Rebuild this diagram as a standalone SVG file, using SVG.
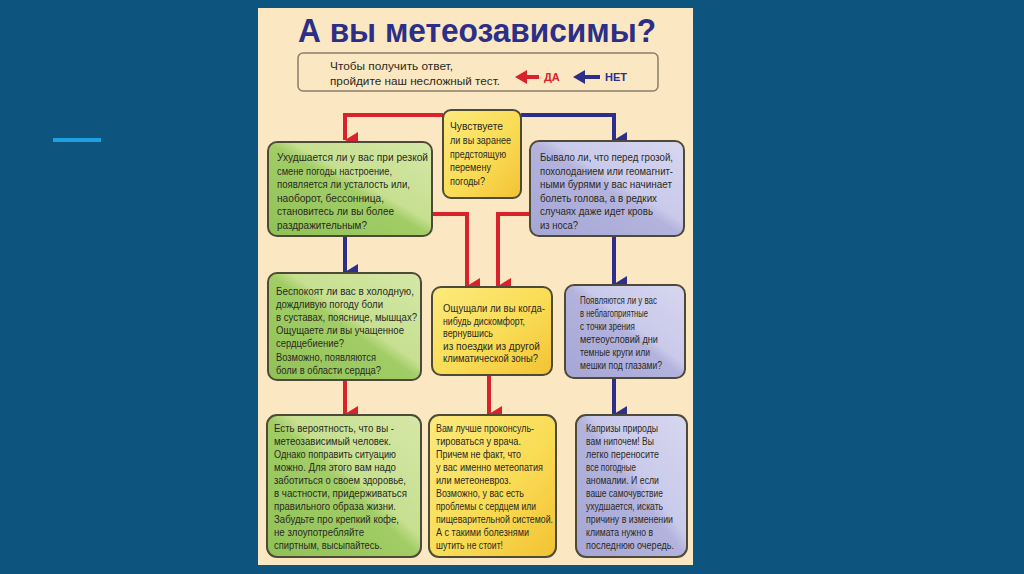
<svg xmlns="http://www.w3.org/2000/svg" width="1024" height="574" viewBox="0 0 1024 574">
<defs>
<linearGradient id="gGreen" x1="0" y1="1" x2="1" y2="0">
<stop offset="0" stop-color="#8fc157"/><stop offset="0.5" stop-color="#a2cd66"/><stop offset="0.57" stop-color="#c6df90"/><stop offset="1" stop-color="#d5e8a8"/>
</linearGradient>
<linearGradient id="gYellow" x1="0" y1="0" x2="1" y2="1">
<stop offset="0" stop-color="#fdea7d"/><stop offset="0.55" stop-color="#f9dc55"/><stop offset="1" stop-color="#f3c233"/>
</linearGradient>
<linearGradient id="gPurple" x1="0" y1="1" x2="1" y2="0">
<stop offset="0" stop-color="#a6a6d6"/><stop offset="0.5" stop-color="#b3b3de"/><stop offset="0.57" stop-color="#c9c9ea"/><stop offset="1" stop-color="#d7d7f1"/>
</linearGradient>
<marker id="aRed" viewBox="0 0 16 13" refX="8" refY="13" markerWidth="16" markerHeight="13" markerUnits="userSpaceOnUse" orient="auto-start-reverse">
<path d="M0,0 L16,0 L8,13 Z" fill="#d9222b"/>
</marker>
<marker id="aBlue" viewBox="0 0 16 13" refX="8" refY="13" markerWidth="16" markerHeight="13" markerUnits="userSpaceOnUse" orient="auto-start-reverse">
<path d="M0,0 L16,0 L8,13 Z" fill="#2e2f8c"/>
</marker>
</defs>
<style>
.node{stroke:#4e4a38;stroke-width:2}
.t{font-family:"Liberation Sans",Arial,sans-serif;font-size:11px;fill:#2a2a22}
.red{fill:none;stroke:#d9222b;stroke-width:4}
.blue{fill:none;stroke:#2e2f8c;stroke-width:4}
</style>
<rect x="0" y="0" width="1024" height="574" fill="#0d557e"/>
<rect x="53" y="138" width="48" height="4" fill="#1ea0e0"/>
<rect x="258" y="8" width="435" height="557" fill="#fbe7c1"/>

<g id="title">
<text x="298" y="42" font-family="Liberation Sans,Arial,sans-serif" font-weight="bold" font-size="33" fill="#2c2f87" textLength="358" lengthAdjust="spacingAndGlyphs">А вы метеозависимы?</text>
</g>

<g id="legend">
<rect x="298" y="53" width="360" height="38" rx="5" fill="none" stroke="#8b7d6b" stroke-width="1.5"/>
<text class="t" x="330" y="70" textLength="123" lengthAdjust="spacingAndGlyphs">Чтобы получить ответ,</text>
<text class="t" x="330" y="85" textLength="170" lengthAdjust="spacingAndGlyphs">пройдите наш несложный тест.</text>
<path d="M539,77 H526" stroke="#d9222b" stroke-width="4"/>
<path d="M515,77 L527,70 L527,84 Z" fill="#d9222b"/>
<text x="544" y="81" font-family="Liberation Sans,Arial,sans-serif" font-weight="bold" font-size="11" fill="#d9222b">ДА</text>
<path d="M600,77 H584" stroke="#2e2f8c" stroke-width="4"/>
<path d="M573,77 L585,70 L585,84 Z" fill="#2e2f8c"/>
<text x="605" y="81" font-family="Liberation Sans,Arial,sans-serif" font-weight="bold" font-size="11" fill="#2e2f8c">НЕТ</text>
</g>

<g id="connectors">
<path class="red" d="M443,115 H345 V140" marker-end="url(#aRed)"/>
<path class="blue" d="M521,115 H614 V140" marker-end="url(#aBlue)"/>
<path class="red" d="M432,214 H467 V286" marker-end="url(#aRed)"/>
<path class="red" d="M530,214 H498 V286" marker-end="url(#aRed)"/>
<path class="blue" d="M345,236 V272" marker-end="url(#aBlue)"/>
<path class="blue" d="M614,236 V284" marker-end="url(#aBlue)"/>
<path class="red" d="M345,380 V414" marker-end="url(#aRed)"/>
<path class="red" d="M489,375 V414" marker-end="url(#aRed)"/>
<path class="blue" d="M614,378 V414" marker-end="url(#aBlue)"/>
</g>

<g id="q-start">
<rect class="node" x="443" y="110" width="78" height="88" rx="8" fill="url(#gYellow)"/>
<text class="t" x="450" y="130" textLength="53" lengthAdjust="spacingAndGlyphs">Чувствуете</text>
<text class="t" x="450" y="144" textLength="61" lengthAdjust="spacingAndGlyphs">ли вы заранее</text>
<text class="t" x="450" y="158" textLength="56" lengthAdjust="spacingAndGlyphs">предстоящую</text>
<text class="t" x="450" y="171" textLength="41" lengthAdjust="spacingAndGlyphs">перемену</text>
<text class="t" x="450" y="185" textLength="35" lengthAdjust="spacingAndGlyphs">погоды?</text>
</g>

<g id="q-mood">
<rect class="node" x="268" y="142" width="164" height="94" rx="9" fill="url(#gGreen)"/>
<text class="t" x="277" y="161" textLength="151" lengthAdjust="spacingAndGlyphs">Ухудшается ли у вас при резкой</text>
<text class="t" x="277" y="174.6" textLength="115" lengthAdjust="spacingAndGlyphs">смене погоды настроение,</text>
<text class="t" x="277" y="188.2" textLength="133" lengthAdjust="spacingAndGlyphs">появляется ли усталость или,</text>
<text class="t" x="277" y="201.8" textLength="107" lengthAdjust="spacingAndGlyphs">наоборот, бессонница,</text>
<text class="t" x="277" y="215.4" textLength="117" lengthAdjust="spacingAndGlyphs">становитесь ли вы более</text>
<text class="t" x="277" y="229" textLength="90" lengthAdjust="spacingAndGlyphs">раздражительным?</text>
</g>

<g id="q-headache">
<rect class="node" x="530" y="141" width="154" height="95" rx="9" fill="url(#gPurple)"/>
<text class="t" x="540" y="161" textLength="133" lengthAdjust="spacingAndGlyphs">Бывало ли, что перед грозой,</text>
<text class="t" x="540" y="174.6" textLength="133" lengthAdjust="spacingAndGlyphs">похолоданием или геомагнит-</text>
<text class="t" x="540" y="188.2" textLength="132" lengthAdjust="spacingAndGlyphs">ными бурями у вас начинает</text>
<text class="t" x="540" y="201.8" textLength="117" lengthAdjust="spacingAndGlyphs">болеть голова, а в редких</text>
<text class="t" x="540" y="215.4" textLength="113" lengthAdjust="spacingAndGlyphs">случаях даже идет кровь</text>
<text class="t" x="540" y="229" textLength="38" lengthAdjust="spacingAndGlyphs">из носа?</text>
</g>

<g id="q-joints">
<rect class="node" x="268" y="273" width="153" height="107" rx="9" fill="url(#gGreen)"/>
<text class="t" x="276" y="295" textLength="138" lengthAdjust="spacingAndGlyphs">Беспокоят ли вас в холодную,</text>
<text class="t" x="276" y="308.1" textLength="107" lengthAdjust="spacingAndGlyphs">дождливую погоду боли</text>
<text class="t" x="276" y="321.2" textLength="141" lengthAdjust="spacingAndGlyphs">в суставах, пояснице, мышцах?</text>
<text class="t" x="276" y="334.3" textLength="128" lengthAdjust="spacingAndGlyphs">Ощущаете ли вы учащенное</text>
<text class="t" x="276" y="347.4" textLength="68" lengthAdjust="spacingAndGlyphs">сердцебиение?</text>
<text class="t" x="276" y="360.5" textLength="100" lengthAdjust="spacingAndGlyphs">Возможно, появляются</text>
<text class="t" x="276" y="373.6" textLength="105" lengthAdjust="spacingAndGlyphs">боли в области сердца?</text>
</g>

<g id="q-travel">
<rect class="node" x="432" y="287" width="120" height="88" rx="9" fill="url(#gYellow)"/>
<text class="t" x="443" y="312" textLength="102" lengthAdjust="spacingAndGlyphs">Ощущали ли вы когда-</text>
<text class="t" x="443" y="324.6" textLength="82" lengthAdjust="spacingAndGlyphs">нибудь дискомфорт,</text>
<text class="t" x="443" y="337.2" textLength="50" lengthAdjust="spacingAndGlyphs">вернувшись</text>
<text class="t" x="443" y="349.8" textLength="97" lengthAdjust="spacingAndGlyphs">из поездки из другой</text>
<text class="t" x="443" y="362.4" textLength="95" lengthAdjust="spacingAndGlyphs">климатической зоны?</text>
</g>

<g id="q-eyes">
<rect class="node" x="565" y="285" width="120" height="93" rx="9" fill="url(#gPurple)"/>
<text class="t" x="580" y="304" textLength="77" lengthAdjust="spacingAndGlyphs">Появляются ли у вас</text>
<text class="t" x="580" y="317" textLength="68" lengthAdjust="spacingAndGlyphs">в неблагоприятные</text>
<text class="t" x="580" y="330" textLength="55" lengthAdjust="spacingAndGlyphs">с точки зрения</text>
<text class="t" x="580" y="343" textLength="78" lengthAdjust="spacingAndGlyphs">метеоусловий дни</text>
<text class="t" x="580" y="356" textLength="70" lengthAdjust="spacingAndGlyphs">темные круги или</text>
<text class="t" x="580" y="369" textLength="82" lengthAdjust="spacingAndGlyphs">мешки под глазами?</text>
</g>

<g id="r-dependent">
<rect class="node" x="267" y="415" width="154" height="142" rx="10" fill="url(#gGreen)"/>
<text class="t" x="274" y="432" textLength="120" lengthAdjust="spacingAndGlyphs">Есть вероятность, что вы -</text>
<text class="t" x="274" y="445" textLength="117" lengthAdjust="spacingAndGlyphs">метеозависимый человек.</text>
<text class="t" x="274" y="458" textLength="122" lengthAdjust="spacingAndGlyphs">Однако поправить ситуацию</text>
<text class="t" x="274" y="471" textLength="122" lengthAdjust="spacingAndGlyphs">можно. Для этого вам надо</text>
<text class="t" x="274" y="484" textLength="132" lengthAdjust="spacingAndGlyphs">заботиться о своем здоровье,</text>
<text class="t" x="274" y="497" textLength="133" lengthAdjust="spacingAndGlyphs">в частности, придерживаться</text>
<text class="t" x="274" y="510" textLength="122" lengthAdjust="spacingAndGlyphs">правильного образа жизни.</text>
<text class="t" x="274" y="523" textLength="125" lengthAdjust="spacingAndGlyphs">Забудьте про крепкий кофе,</text>
<text class="t" x="274" y="536" textLength="90" lengthAdjust="spacingAndGlyphs">не злоупотребляйте</text>
<text class="t" x="274" y="549" textLength="108" lengthAdjust="spacingAndGlyphs">спиртным, высыпайтесь.</text>
</g>

<g id="r-doctor">
<rect class="node" x="429" y="415" width="127" height="142" rx="10" fill="url(#gYellow)"/>
<text class="t" x="436" y="432" textLength="98" lengthAdjust="spacingAndGlyphs">Вам лучше проконсуль-</text>
<text class="t" x="436" y="445" textLength="85" lengthAdjust="spacingAndGlyphs">тироваться у врача.</text>
<text class="t" x="436" y="458" textLength="85" lengthAdjust="spacingAndGlyphs">Причем не факт, что</text>
<text class="t" x="436" y="471" textLength="107" lengthAdjust="spacingAndGlyphs">у вас именно метеопатия</text>
<text class="t" x="436" y="484" textLength="75" lengthAdjust="spacingAndGlyphs">или метеоневроз.</text>
<text class="t" x="436" y="497" textLength="88" lengthAdjust="spacingAndGlyphs">Возможно, у вас есть</text>
<text class="t" x="436" y="510" textLength="100" lengthAdjust="spacingAndGlyphs">проблемы с сердцем или</text>
<text class="t" x="436" y="523" textLength="117" lengthAdjust="spacingAndGlyphs">пищеварительной системой.</text>
<text class="t" x="436" y="536" textLength="93" lengthAdjust="spacingAndGlyphs">А с такими болезнями</text>
<text class="t" x="436" y="549" textLength="67" lengthAdjust="spacingAndGlyphs">шутить не стоит!</text>
</g>

<g id="r-fine">
<rect class="node" x="576" y="415" width="111" height="142" rx="10" fill="url(#gPurple)"/>
<text class="t" x="586" y="432" textLength="72" lengthAdjust="spacingAndGlyphs">Капризы природы</text>
<text class="t" x="586" y="445" textLength="68" lengthAdjust="spacingAndGlyphs">вам нипочем! Вы</text>
<text class="t" x="586" y="458" textLength="73" lengthAdjust="spacingAndGlyphs">легко переносите</text>
<text class="t" x="586" y="471" textLength="50" lengthAdjust="spacingAndGlyphs">все погодные</text>
<text class="t" x="586" y="484" textLength="73" lengthAdjust="spacingAndGlyphs">аномалии.  И если</text>
<text class="t" x="586" y="497" textLength="77" lengthAdjust="spacingAndGlyphs">ваше самочувствие</text>
<text class="t" x="586" y="510" textLength="77" lengthAdjust="spacingAndGlyphs">ухудшается, искать</text>
<text class="t" x="586" y="523" textLength="87" lengthAdjust="spacingAndGlyphs">причину в изменении</text>
<text class="t" x="586" y="536" textLength="67" lengthAdjust="spacingAndGlyphs">климата нужно в</text>
<text class="t" x="586" y="549" textLength="88" lengthAdjust="spacingAndGlyphs">последнюю очередь.</text>
</g>
</svg>
